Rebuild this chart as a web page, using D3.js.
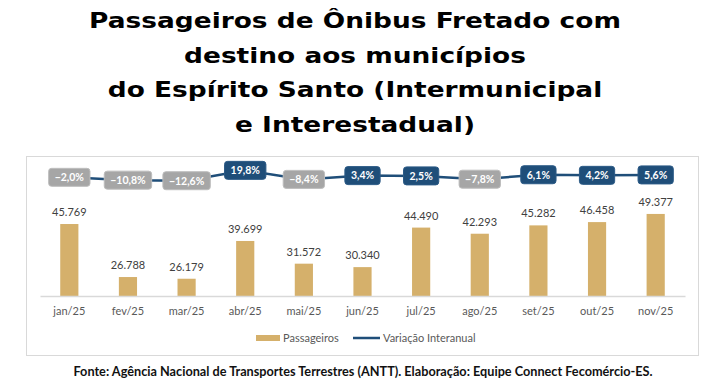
<!DOCTYPE html>
<html><head><meta charset="utf-8">
<script src="https://cdn.jsdelivr.net/npm/d3@7"></script>
<style>
html,body{margin:0;padding:0;background:#fff;}
svg{display:block;}
</style></head>
<body>
<svg id="chart" width="708" height="385"></svg>
<script>
const titleLines = ["Passageiros de Ônibus Fretado com", "destino aos municípios", "do Espírito Santo (Intermunicipal", "e Interestadual)"];
const months = ["jan/25","fev/25","mar/25","abr/25","mai/25","jun/25","jul/25","ago/25","set/25","out/25","nov/25"];
const passageiros = [45769, 26788, 26179, 39699, 31572, 30340, 44490, 42293, 45282, 46458, 49377];
const variacao = [-2.0, -10.8, -12.6, 19.8, -8.4, 3.4, 2.5, -7.8, 6.1, 4.2, 5.6];
const legendLabels = ["Passageiros", "Variação Interanual"];
const sourceText = "Fonte: Agência Nacional de Transportes Terrestres (ANTT). Elaboração: Equipe Connect Fecomércio-ES.";

const GOLD = "#d5b06b", NAVY = "#1f4e79", GRAY = "#a6a6a6";
const locale = d3.formatLocale({decimal: ",", thousands: ".", grouping: [3], currency: ["R$", ""]});
const fmtInt = locale.format(",d");
const fmtPct = v => locale.format(".1f")(v) + "%";

const svg = d3.select("#chart");

// Title
const title = svg.append("g").attr("font-family", "'DejaVu Sans', sans-serif").attr("font-weight", 700).attr("fill", "#000");
const baselines = [27.5, 62.5, 97, 131.5];
const TFS = 22;
const tTexts = titleLines.map((t, i) =>
  title.append("text").attr("text-anchor", "middle").attr("font-size", TFS).text(t));
{
  const w = tTexts[0].node().getComputedTextLength();
  const sx = 532 / w;
  tTexts.forEach((tx, i) => tx.attr("transform", `translate(355,${baselines[i]}) scale(${sx},1)`));
}

// Panel
svg.append("rect").attr("x", 26.5).attr("y", 156.5).attr("width", 672).attr("height", 199)
  .attr("fill", "#fff").attr("stroke", "#d9d9d9").attr("stroke-width", 1);

// Scales
const x = d3.scaleBand().domain(months).range([40, 685]).paddingInner(0.69).paddingOuter(0.345);
const yBar = d3.scaleLinear().domain([20000, 50000]).range([296, 212.2]);
const yLine = d3.scaleLinear().domain([-20, 20]).range([183.1, 170.3]);

// Bars
svg.append("g").selectAll("rect").data(passageiros).join("rect")
  .attr("x", (d, i) => x(months[i]))
  .attr("width", x.bandwidth())
  .attr("y", d => yBar(d))
  .attr("height", d => yBar(yBar.domain()[0]) - yBar(d))
  .attr("fill", GOLD);

// Bar labels
svg.append("g").attr("font-family", "Lato, sans-serif").attr("font-size", 11).attr("fill", "#404040")
  .selectAll("text").data(passageiros).join("text")
  .attr("x", (d, i) => x(months[i]) + x.bandwidth() / 2)
  .attr("y", d => yBar(d) - 8)
  .attr("text-anchor", "middle")
  .text(d => fmtInt(d));

// X axis
const xAxis = svg.append("g").attr("transform", "translate(0,296)")
  .call(d3.axisBottom(x).tickSize(0).tickPadding(11));
xAxis.select(".domain").attr("stroke", "#d9d9d9").attr("stroke-width", 1.5);
xAxis.selectAll("text").attr("font-family", "Lato, sans-serif").attr("font-size", 11).attr("fill", "#595959");

// Line
const cx = i => x(months[i]) + x.bandwidth() / 2;
const line = d3.line().x((d, i) => cx(i)).y(d => yLine(d));
svg.append("path").datum(variacao).attr("d", line).attr("fill", "none")
  .attr("stroke", NAVY).attr("stroke-width", 2.5);

// Markers
const mk = svg.append("g").selectAll("g").data(variacao).join("g")
  .attr("transform", (d, i) => `translate(${cx(i)},${yLine(d)})`);
const mkRect = mk.append("rect");
const mkText = mk.append("text").attr("text-anchor", "middle").attr("dy", "0.36em")
  .attr("font-family", "Lato, sans-serif").attr("font-weight", 700).attr("font-size", 10.5)
  .attr("fill", "#fff").text(d => fmtPct(d));
mkText.each(function(d) {
  const w = this.getComputedTextLength() + 12;
  d3.select(this.previousSibling)
    .attr("x", -w / 2).attr("y", -9).attr("width", w).attr("height", 18).attr("rx", 3)
    .attr("fill", d >= 0 ? NAVY : GRAY)
    .attr("stroke", d >= 0 ? "#2b5a86" : "#bdbdbd").attr("stroke-width", 1);
});

// Legend
const lg = svg.append("g").attr("font-family", "Lato, sans-serif").attr("font-size", 11).attr("fill", "#595959");
lg.append("rect").attr("x", 256).attr("y", 335).attr("width", 24).attr("height", 6).attr("fill", GOLD);
lg.append("text").attr("x", 283).attr("y", 341.5).text(legendLabels[0]);
lg.append("line").attr("x1", 353).attr("x2", 380).attr("y1", 338).attr("y2", 338)
  .attr("stroke", NAVY).attr("stroke-width", 2.5);
lg.append("text").attr("x", 383).attr("y", 341.5).text(legendLabels[1]);

// Source
const src = svg.append("text").attr("x", 363).attr("y", 375.5).attr("text-anchor", "middle")
  .attr("font-family", "Lato, sans-serif").attr("font-weight", 700).attr("font-size", 12.5)
  .attr("fill", "#111").text(sourceText);
{
  const w = src.node().getComputedTextLength();
  src.attr("font-size", 12.5 * 580 / w);
}
</script>
</body></html>
